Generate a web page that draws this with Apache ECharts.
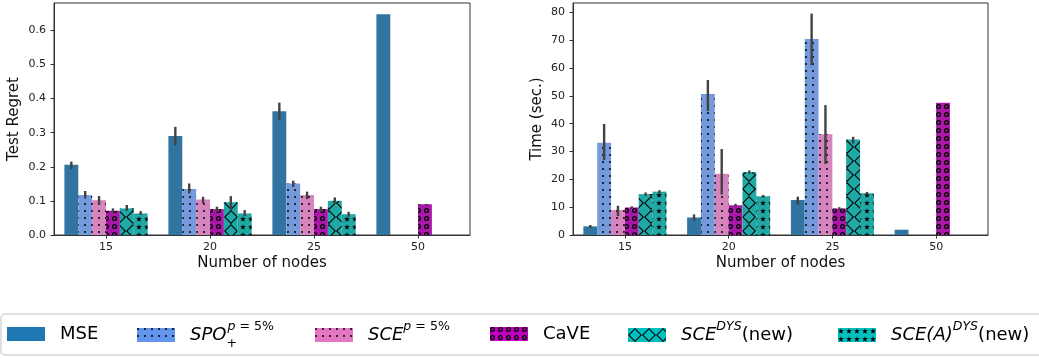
<!DOCTYPE html>
<html>
<head>
<meta charset="utf-8">
<script src="https://cdn.jsdelivr.net/npm/echarts@6/dist/echarts.min.js"></script>
<style>
html, body { margin: 0; padding: 0; background: #fff; }
#chart { width: 1039px; height: 358px; }
</style>
</head>
<body>
<div id="chart"></div>
<script>
// ---------- DATA ----------
const categories = ['15', '20', '25', '50'];
const seriesNames = ['MSE', 'SPO', 'SCE', 'CaVE', 'SCE DYS', 'SCE(A) DYS'];

const regretTicks = [0, 0.1, 0.2, 0.3, 0.4, 0.5, 0.6];
const timeTicks = [0, 10, 20, 30, 40, 50, 60, 70, 80];
const regretMax = 0.68;
const timeMax = 83.4;

// Test regret (means)
const regretMSE    = [0.206, 0.290, 0.363, 0.647];
const regretSPO    = [0.117, 0.135, 0.151, null];
const regretSCE    = [0.102, 0.104, 0.117, null];
const regretCaVE   = [0.071, 0.076, 0.076, 0.090];
const regretSCEDYS = [0.078, 0.096, 0.100, null];
const regretSCEADYS= [0.063, 0.063, 0.061, null];

// Test regret error bar bounds
const regretMSELow     = [0.193, 0.263, 0.337, null];
const regretMSEHigh    = [0.215, 0.317, 0.388, null];
const regretSPOLow     = [0.107, 0.122, 0.141, null];
const regretSPOHigh    = [0.129, 0.151, 0.159, null];
const regretSCELow     = [0.088, 0.093, 0.105, null];
const regretSCEHigh    = [0.114, 0.112, 0.127, null];
const regretCaVELow    = [0.063, 0.068, 0.068, null];
const regretCaVEHigh   = [0.078, 0.083, 0.083, null];
const regretSCEDYSLow  = [0.071, 0.075, 0.091, null];
const regretSCEDYSHigh = [0.088, 0.114, 0.110, null];
const regretSCEADYSLow = [0.059, 0.056, 0.054, null];
const regretSCEADYSHigh= [0.070, 0.073, 0.068, null];

// Time (means)
const timeMSE    = [3.1, 6.3, 12.6, 1.9];
const timeSPO    = [33.2, 50.7, 70.5, null];
const timeSCE    = [9.0, 22.0, 36.2, null];
const timeCaVE   = [9.9, 10.7, 9.5, 47.5];
const timeSCEDYS = [14.7, 22.6, 34.3, null];
const timeSCEADYS= [15.6, 13.9, 15.0, null];

// Time error bar bounds
const timeMSELow     = [2.5, 5.1, 10.9, null];
const timeMSEHigh    = [3.6, 7.4, 13.8, null];
const timeSPOLow     = [26.9, 44.6, 61.0, null];
const timeSPOHigh    = [39.9, 55.7, 79.6, null];
const timeSCELow     = [6.8, 14.6, 25.5, null];
const timeSCEHigh    = [10.5, 30.9, 46.7, null];
const timeCaVELow    = [9.5, 10.2, 9.0, null];
const timeCaVEHigh   = [10.3, 11.2, 10.0, null];
const timeSCEDYSLow  = [14.1, 22.0, 32.9, null];
const timeSCEDYSHigh = [15.3, 23.2, 35.3, null];
const timeSCEADYSLow = [15.0, 13.5, 14.5, null];
const timeSCEADYSHigh= [16.1, 14.4, 15.5, null];

// ---------- STYLE ----------
const FONT = 'DejaVu Sans';
const barColors = ['#3274a1', '#759adc', '#d584bd', '#a718a7', '#1fa8a4', '#1fa8a4'];
const legendColors = ['#1f77b4', '#6495ed', '#e377c2', '#bf00bf', '#00bfbf', '#00bfbf'];

const ringPath = 'path://M0,5A5,5 0 1,0 10,5A5,5 0 1,0 0,5ZM2.6,5A2.4,2.4 0 1,1 7.4,5A2.4,2.4 0 1,1 2.6,5Z';
const starPath = 'path://M5,0L6.2,3.6L10,3.6L6.9,5.8L8.1,9.5L5,7.2L1.9,9.5L3.1,5.8L0,3.6L3.8,3.6Z';
const crossPath = 'path://M7,0L14,7L7,14L0,7ZM7,1.5L1.5,7L7,12.5L12.5,7Z';

const decals = [
  null,
  { symbol: 'circle', symbolSize: 1, color: '#000', dashArrayX: [1.9, 4.8], dashArrayY: [1.9, 4.8] },
  { symbol: 'circle', symbolSize: 1, color: '#000', dashArrayX: [1.9, 4.8], dashArrayY: [1.9, 4.8] },
  { symbol: ringPath, symbolSize: 1, color: '#000', dashArrayX: [4.5, 2.2], dashArrayY: [4.5, 2.2] },
  { symbol: crossPath, symbolSize: 1, color: '#000', dashArrayX: [14, 0], dashArrayY: [14, 0] },
  { symbol: starPath, symbolSize: 1, color: '#000', dashArrayX: [5.4, 1.4], dashArrayY: [5.4, 1.4] }
];

const regretVals = [regretMSE, regretSPO, regretSCE, regretCaVE, regretSCEDYS, regretSCEADYS];
const regretLow = [regretMSELow, regretSPOLow, regretSCELow, regretCaVELow, regretSCEDYSLow, regretSCEADYSLow];
const regretHigh = [regretMSEHigh, regretSPOHigh, regretSCEHigh, regretCaVEHigh, regretSCEDYSHigh, regretSCEADYSHigh];
const timeVals = [timeMSE, timeSPO, timeSCE, timeCaVE, timeSCEDYS, timeSCEADYS];
const timeLow = [timeMSELow, timeSPOLow, timeSCELow, timeCaVELow, timeSCEDYSLow, timeSCEADYSLow];
const timeHigh = [timeMSEHigh, timeSPOHigh, timeSCEHigh, timeCaVEHigh, timeSCEDYSHigh, timeSCEADYSHigh];

function errData(lows, highs) {
  const out = [];
  for (let s = 0; s < lows.length; s++) {
    for (let c = 0; c < categories.length; c++) {
      if (lows[s][c] != null && highs[s][c] != null) out.push([c, s, lows[s][c], highs[s][c]]);
    }
  }
  return out;
}

function renderErr(params, api) {
  const cat = api.value(0), s = api.value(1);
  const band = api.size([1, 0])[0];
  const bw = band * 0.8 / 6;
  const cx = api.coord([cat, 0])[0] + (s - 2.5) * bw;
  const y1 = api.coord([cat, api.value(2)])[1];
  const y2 = api.coord([cat, api.value(3)])[1];
  return { type: 'line', shape: { x1: cx, y1: y1, x2: cx, y2: y2 }, style: { stroke: '#424242', lineWidth: 2.4 } };
}

const axisColor = '#333';
function xAxisCfg(gridIndex) {
  return {
    type: 'category', gridIndex: gridIndex, data: categories,
    boundaryGap: true,
    name: 'Number of nodes', nameLocation: 'middle', nameGap: 21, nameMoveOverlap: false,
    nameTextStyle: { fontFamily: FONT, fontSize: 15, color: '#111' },
    axisLine: { show: true, lineStyle: { color: axisColor, width: 1 } },
    axisTick: { show: true, alignWithLabel: true, length: 3.5, inside: false, lineStyle: { color: axisColor } },
    axisLabel: { fontFamily: FONT, fontSize: 11, color: '#222', margin: 7 },
    splitLine: { show: false }
  };
}
function yAxisCfg(gridIndex, name, max, ticks, gap, fmt) {
  return {
    type: 'value', gridIndex: gridIndex, min: 0, max: max,
    name: name, nameLocation: 'middle', nameGap: gap, nameMoveOverlap: false,
    nameTextStyle: { fontFamily: FONT, fontSize: 15, color: '#111' },
    axisLine: { show: true, lineStyle: { color: axisColor, width: 1 } },
    axisTick: { show: true, length: 3.5, customValues: ticks, lineStyle: { color: axisColor } },
    axisLabel: { fontFamily: FONT, fontSize: 11, color: '#222', margin: 8, customValues: ticks, formatter: fmt },
    splitLine: { show: false }
  };
}

function barItemStyle(i) {
  const st = { color: barColors[i] };
  if (decals[i]) st.decal = decals[i];
  return st;
}

const series = [];
seriesNames.forEach((name, i) => {
  series.push({
    name: name, type: 'bar', xAxisIndex: 0, yAxisIndex: 0,
    data: regretVals[i], barGap: '0%', barCategoryGap: '20%',
    itemStyle: barItemStyle(i),
    emphasis: { disabled: true }
  });
});
seriesNames.forEach((name, i) => {
  series.push({
    name: name, type: 'bar', xAxisIndex: 1, yAxisIndex: 1,
    data: timeVals[i], barGap: '0%', barCategoryGap: '20%',
    itemStyle: barItemStyle(i),
    emphasis: { disabled: true }
  });
});
series.push({
  type: 'custom', xAxisIndex: 0, yAxisIndex: 0, renderItem: renderErr,
  data: errData(regretLow, regretHigh), encode: { x: 0, y: [2, 3] }, z: 5, silent: true
});
series.push({
  type: 'custom', xAxisIndex: 1, yAxisIndex: 1, renderItem: renderErr,
  data: errData(timeLow, timeHigh), encode: { x: 0, y: [2, 3] }, z: 5, silent: true
});

// legend
const legendLefts = [7, 137, 315, 490, 628, 838];
const legendTops = [325, 320, 320, 325, 320, 320];
const legendLabels = {
  'MSE': '{g|}{n|MSE}',
  'SPO': '{g|}{it|SPO}{sub|+}{supA|p}{supAn| = 5%}',
  'SCE': '{g|}{it|SCE}{supB|p}{supBn| = 5%}',
  'CaVE': '{g|}{n|CaVE}',
  'SCE DYS': '{g|}{it|SCE}{supB|DYS}{n|(new)}',
  'SCE(A) DYS': '{g|}{it|SCE(A)}{supB|DYS}{n|(new)}'
};
const rich = {
  g: { width: 10 },
  n: { fontFamily: FONT, fontSize: 18, color: '#000', lineHeight: 30, verticalAlign: 'middle' },
  it: { fontFamily: FONT, fontSize: 18, fontStyle: 'italic', color: '#000', lineHeight: 30, verticalAlign: 'middle' },
  supA: { fontFamily: FONT, fontSize: 12.6, fontStyle: 'italic', color: '#000', lineHeight: 17, verticalAlign: 'top' },
  supAn: { fontFamily: FONT, fontSize: 12.6, color: '#000', lineHeight: 17, verticalAlign: 'top' },
  supB: { fontFamily: FONT, fontSize: 12.6, fontStyle: 'italic', color: '#000', lineHeight: 20, verticalAlign: 'top' },
  supBn: { fontFamily: FONT, fontSize: 12.6, color: '#000', lineHeight: 20, verticalAlign: 'top' },
  sub: { fontFamily: FONT, fontSize: 12.6, color: '#000', lineHeight: 13, verticalAlign: 'bottom', width: 1 }
};
const legends = seriesNames.map((name, i) => ({
  show: true, data: [name], left: legendLefts[i], top: legendTops[i], padding: 0,
  orient: 'horizontal', selectedMode: false,
  icon: 'rect', itemWidth: 38, itemHeight: 14,
  itemStyle: { color: legendColors[i], borderWidth: 0 },
  formatter: () => legendLabels[name],
  textStyle: { rich: rich, fontFamily: FONT, fontSize: 18, color: '#000' }
}));

const chart = echarts.init(document.getElementById('chart'), null, { renderer: 'canvas' });
chart.setOption({
  animation: false,
  backgroundColor: '#fff',
  grid: [
    { left: 54, top: 3, width: 416, height: 232, show: true, borderColor: axisColor, borderWidth: 1, backgroundColor: 'transparent', outerBoundsMode: 'none', containLabel: false },
    { left: 573, top: 3, width: 415, height: 232, show: true, borderColor: axisColor, borderWidth: 1, backgroundColor: 'transparent', outerBoundsMode: 'none', containLabel: false }
  ],
  xAxis: [xAxisCfg(0), xAxisCfg(1)],
  yAxis: [
    yAxisCfg(0, 'Test Regret', regretMax, regretTicks, 32, v => v.toFixed(1)),
    yAxisCfg(1, 'Time (sec.)', timeMax, timeTicks, 28, v => String(Math.round(v)))
  ],
  legend: legends,
  graphic: [{
    type: 'rect', z: -1, silent: true,
    shape: { x: 1, y: 314, width: 1100, height: 41, r: 4 },
    style: { fill: '#fff', stroke: '#d6d6d6', lineWidth: 1.5 }
  }],
  tooltip: { show: false },
  series: series
});
</script>
</body>
</html>
